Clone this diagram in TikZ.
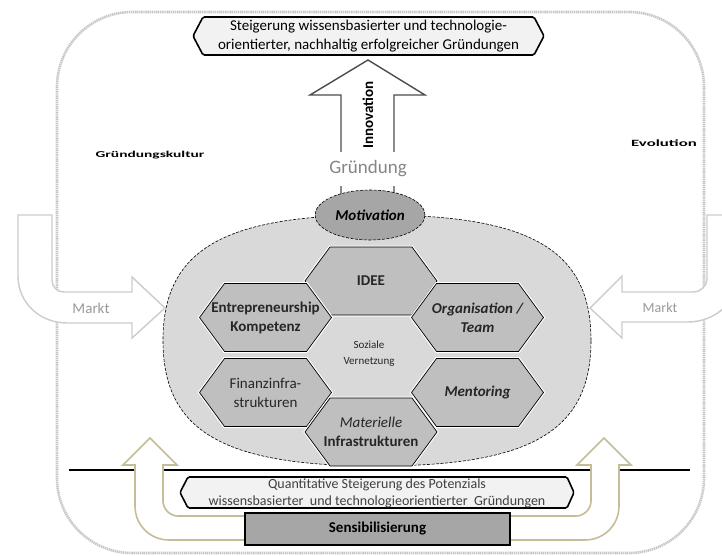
\documentclass[tikz,border=0pt]{standalone}
\usepackage{fontspec}
\usepackage{graphicx}
\setmainfont{Carlito}
\usetikzlibrary{shapes.geometric}
\definecolor{goldtan}{HTML}{C4BD97}
\newcommand\fs[2]{\fontsize{#1}{#2}\selectfont}
\newcommand\hexcell[4]{%
  \draw[hexcell] ({#2-66},#3) -- ({#2-41},{#3-34}) -- ({#2+41},{#3-34}) -- ({#2+66},#3) -- ({#2+41},{#3+34}) -- ({#2-41},{#3+34}) -- cycle;
  \node[hextext] (#1) at (#2,#3) {#4};}
\begin{document}
\begin{tikzpicture}[x=1pt,y=-1pt,
  outerborder/.style={draw=gray!45, line width=2.6pt, dash pattern=on 1.4pt off 0.7pt, rounded corners=75pt},
  goalbox/.style={fill=gray!10, draw=black, line width=1.6pt, rounded corners=1.5pt},
  bigarrow/.style={fill=white, draw=black!70, line width=1.4pt, line join=miter},
  marktarrow/.style={fill=white, draw=gray!40, line width=1.4pt},
  goldarrow/.style={fill=white, draw=goldtan, line width=1.6pt},
  blob/.style={fill=gray!30, draw=black, line width=0.6pt, dash pattern=on 3pt off 1.5pt},
  motiv/.style={ellipse, fill=gray!70, draw=black, line width=0.6pt, dash pattern=on 3pt off 1.5pt, minimum width=110pt, minimum height=50pt, inner sep=0pt},
  hexcell/.style={fill=gray!50, draw=black, line width=0.7pt, preaction={draw=white, line width=3pt}},
  hextext/.style={align=center, text=black!85, inner sep=0pt, font={\fs{15}{19}}},
  plain/.style={inner sep=0pt, align=center},
]
\clip (0,0) rectangle (722,556);

% outer dotted frame
\draw[outerborder] (57,12) rectangle (704,553);

% Markt arrows
\draw[marktarrow] (18,215) -- (52,215) -- (52,280) .. controls (52,287) and (57,292) .. (64,292) -- (132,292) -- (132,277) -- (165,308) -- (132,338) -- (132,323) -- (67,323) .. controls (40,323) and (18,303) .. (18,276) -- cycle;
\node[plain, text=black!40, font={\fs{15}{18}}] (marktl) at (91,308) {Markt};
\draw[marktarrow] (740,215) -- (707,215) -- (707,278) .. controls (707,286) and (701,292) .. (693,292) -- (622,292) -- (622,276) -- (590,308) -- (622,338) -- (622,322) -- (688,322) .. controls (716,322) and (740,300) .. (740,272) -- cycle;
\node[plain, text=black!40, font={\fs{14}{17}}] (marktr) at (660,308) {Markt};

% side labels
\node[plain, font={\bfseries\fs{15}{15}}] (kultur) at (150,155) {\scalebox{1.03}[0.6]{Gründungskultur}};
\node[plain, font={\bfseries\fs{16}{16}}] (evol) at (664,143) {\scalebox{1.05}[0.6]{Evolution}};

% goal box
\draw[goalbox] (193,36) -- (203,17) -- (534,17) -- (544,36) -- (534,55) -- (203,55) -- cycle;
\node[plain, font={\fs{15}{19}}] (goal) at (368.5,36) {Steigerung wissensbasierter und technologie-\\orientierter, nachhaltig erfolgreicher Gründungen};

% big blob (squarish oval)
\draw[blob] (591,340.5) .. controls (591,250) and (531,215) .. (377,215)
  .. controls (223,215) and (163,250) .. (163,340.5)
  .. controls (163,431) and (223,466) .. (377,466)
  .. controls (531,466) and (591,431) .. (591,340.5) -- cycle;

% innovation arrow
\draw[bigarrow] (341,202) -- (341,95) -- (310,95) -- (368,60) -- (425,95) -- (394,95) -- (394,202);
\node[plain, rotate=90, font={\bfseries\fs{15}{18}}] (innov) at (368,115) {Innovation};
\node[fill=white, text=black!48, font={\fs{19}{22}}, inner xsep=2pt, inner ysep=0pt, minimum height=34pt] (gruendung) at (368,169) {Gründung};

% motivation
\node[motiv, font={\bfseries\itshape\fs{15}{18}}] (motiv) at (370,215) {Motivation};

% hexagons
\hexcell{idee}{371}{281}{\bfseries IDEE}
\hexcell{entre}{265.5}{317.5}{\bfseries Entrepreneurship\\\bfseries Kompetenz}
\hexcell{orga}{477.5}{317.5}{\bfseries\itshape Organisation /\\\bfseries\itshape Team}
\hexcell{finanz}{265.5}{392.5}{Finanzinfra-\\strukturen}
\hexcell{mentor}{477.5}{392.5}{\bfseries\itshape Mentoring}
\hexcell{materiell}{371}{432}{\itshape Materielle\\\bfseries Infrastrukturen}
\node[plain, text=black!85, font={\fs{11}{16}}] (sozial) at (369,354) {Soziale\\Vernetzung};

% bottom section
\draw[line width=1.8pt] (69,470) -- (690,470);
\draw[goldarrow] (245,516) -- (178,516) .. controls (170,516) and (163,509) .. (163,501) -- (163,465) -- (177,465) -- (150,438) -- (123,465) -- (135,465) -- (135,506) .. controls (135,525) and (150,540) .. (169,540) -- (245,540);
\draw[goldarrow] (509,516) -- (576,516) .. controls (584,516) and (591,509) .. (591,501) -- (591,465) -- (577,465) -- (604,438) -- (631,465) -- (619,465) -- (619,506) .. controls (619,525) and (604,540) .. (585,540) -- (509,540);

\draw[goalbox] (180,492.5) -- (188,477) -- (567,477) -- (574,492.5) -- (567,508) -- (188,508) -- cycle;
\node[plain, text=black!75, font={\fs{14}{17}}] (quant) at (377,493) {Quantitative Steigerung des Potenzials\\wissensbasierter\ \ und technologieorientierter\ \ Gründungen};

\node[fill=gray!70, draw=black, line width=1.5pt, minimum width=265pt, minimum height=32pt, inner sep=0pt, font={\bfseries\fs{15}{18}}] (sensi) at (377.5,529) {Sensibilisierung};
\end{tikzpicture}
\end{document}
